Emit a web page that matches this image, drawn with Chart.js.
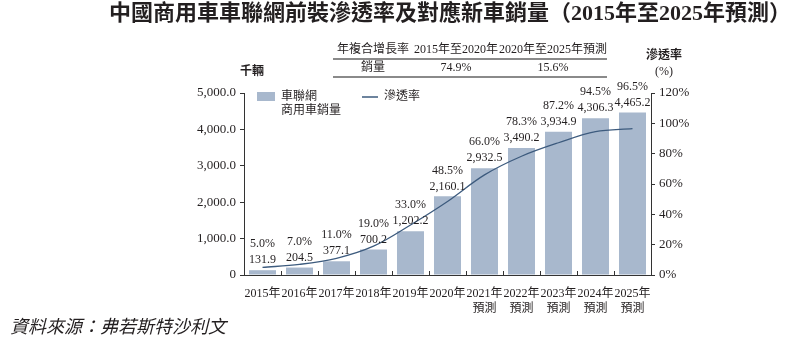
<!DOCTYPE html>
<html>
<head>
<meta charset="utf-8">
<script src="https://cdn.jsdelivr.net/npm/chart.js"></script>
<style>
    html, body { margin: 0; padding: 0; background: #fff; }
    #wrap { width: 793px; height: 353px; position: relative; }
</style>
</head>
<body>
<div id="wrap"><canvas id="salesChart" width="793" height="353"></canvas></div>
<script>
    // data
    const years = ["2015年", "2016年", "2017年", "2018年", "2019年", "2020年", "2021年", "2022年", "2023年", "2024年", "2025年"];
    const forecast = [false, false, false, false, false, false, true, true, true, true, true];
    const sales = [131.9, 204.5, 377.1, 700.2, 1202.2, 2160.1, 2932.5, 3490.2, 3934.9, 4306.3, 4465.2];
    const penetration = [5.0, 7.0, 11.0, 19.0, 33.0, 48.5, 66.0, 78.3, 87.2, 94.5, 96.5];
    const cagrPeriods = ["2015年至2020年", "2020年至2025年預測"];
    const cagrSales = ["74.9%", "15.6%"];

    const serif = "'Liberation Serif', 'Noto Sans CJK TC', serif";
    const textColor = "#231f20";
    const barColor = "#a8b8cd";
    const lineColor = "#3d5b7e";

    const labels = years.map(function (y, i) { return forecast[i] ? [y, "預測"] : y; });

    function fmt(v) {
        return v.toLocaleString("en-US", { minimumFractionDigits: 1, maximumFractionDigits: 1 });
    }

    // extra text: title, CAGR table, legend, value labels, source
    const decorations = {
        id: "decorations",
        afterDatasetsDraw: function (chart) {
            const ctx = chart.ctx;
            const area = chart.chartArea;
            ctx.save();
            ctx.fillStyle = textColor;

            // title
            ctx.font = "bold 22px " + serif;
            ctx.textAlign = "right";
            ctx.textBaseline = "middle";
            ctx.fillText("中國商用車車聯網前裝滲透率及對應新車銷量（2015年至2025年預測）", 791, 14);

            // CAGR table
            ctx.font = "12px " + serif;
            ctx.textAlign = "center";
            ctx.fillText("年複合增長率", 373, 50);
            ctx.fillText(cagrPeriods[0], 456, 50);
            ctx.fillText(cagrPeriods[1], 553, 50);
            ctx.fillText("銷量", 373, 68);
            ctx.fillText(cagrSales[0], 456, 68);
            ctx.fillText(cagrSales[1], 553, 68);
            ctx.strokeStyle = "#8a8a8a";
            ctx.lineWidth = 2;
            ctx.beginPath();
            ctx.moveTo(333, 59); ctx.lineTo(607, 59);
            ctx.moveTo(333, 77); ctx.lineTo(607, 77);
            ctx.stroke();

            // axis titles
            ctx.font = "bold 12px " + serif;
            ctx.fillText("千輛", 252, 72);
            ctx.fillText("滲透率", 664, 56);
            ctx.font = "12px " + serif;
            ctx.fillText("(%)", 664, 72);

            // legend
            ctx.fillStyle = barColor;
            ctx.fillRect(257, 92, 18, 9);
            ctx.fillStyle = textColor;
            ctx.textAlign = "left";
            ctx.fillText("車聯網", 281, 97);
            ctx.fillText("商用車銷量", 281, 111);
            ctx.strokeStyle = lineColor;
            ctx.lineWidth = 1.5;
            ctx.beginPath();
            ctx.moveTo(362, 97); ctx.lineTo(378, 97);
            ctx.stroke();
            ctx.fillText("滲透率", 384, 97);

            // value labels above each bar (dataset 1 is the bar series)
            ctx.textAlign = "center";
            ctx.font = "12px " + serif;
            const bars = chart.getDatasetMeta(1).data;
            bars.forEach(function (bar, i) {
                const top = Math.min(bar.y, area.bottom - 5);
                ctx.fillText(fmt(sales[i]), bar.x, top - 10);
                ctx.fillText(penetration[i].toFixed(1) + "%", bar.x, top - 26);
            });

            // x-axis tick marks pointing up at category boundaries
            const xs = chart.scales.x;
            ctx.strokeStyle = "#333";
            ctx.lineWidth = 1;
            ctx.beginPath();
            for (let i = 1; i < years.length; i++) {
                const bx = Math.round((xs.getPixelForValue(i - 1) + xs.getPixelForValue(i)) / 2) + 0.5;
                ctx.moveTo(bx, area.bottom);
                ctx.lineTo(bx, area.bottom - 4);
            }
            ctx.stroke();

            // source
            ctx.font = "italic 18px " + serif;
            ctx.textAlign = "left";
            ctx.fillText("資料來源：弗若斯特沙利文", 10, 328);
            ctx.restore();
        }
    };

    new Chart(document.getElementById("salesChart"), {
        data: {
            labels: labels,
            datasets: [
                {
                    type: "line",
                    label: "滲透率",
                    data: penetration,
                    yAxisID: "y1",
                    borderColor: lineColor,
                    borderWidth: 1.3,
                    pointRadius: 0,
                    tension: 0.35,
                    order: 0
                },
                {
                    type: "bar",
                    label: "車聯網商用車銷量",
                    data: sales,
                    yAxisID: "y",
                    backgroundColor: barColor,
                    categoryPercentage: 1,
                    barPercentage: 0.73,
                    order: 1
                }
            ]
        },
        options: {
            responsive: false,
            animation: false,
            layout: { padding: { top: 93, left: 0, right: 0, bottom: 0 } },
            plugins: { legend: { display: false }, tooltip: { enabled: false } },
            scales: {
                x: {
                    grid: { display: false },
                    border: { display: true, color: "#333", width: 1 },
                    ticks: {
                        color: textColor,
                        font: { family: serif, size: 12 },
                        padding: 4,
                        maxRotation: 0,
                        autoSkip: false
                    },
                    afterFit: function (scale) { scale.height = 78; }
                },
                y: {
                    position: "left",
                    min: 0,
                    max: 5000,
                    grid: { drawOnChartArea: false, drawTicks: true, tickLength: 4, color: "#333" },
                    border: { display: true, color: "#333", width: 1 },
                    ticks: {
                        stepSize: 1000,
                        color: textColor,
                        font: { family: serif, size: 13 },
                        padding: 4,
                        callback: function (v) { return v === 0 ? "0" : fmt(v); }
                    },
                    afterFit: function (scale) { scale.width = 244; }
                },
                y1: {
                    position: "right",
                    min: 0,
                    max: 120,
                    grid: { drawOnChartArea: false, drawTicks: true, tickLength: 4, color: "#333" },
                    border: { display: true, color: "#333", width: 1 },
                    ticks: {
                        stepSize: 20,
                        color: textColor,
                        font: { family: serif, size: 13 },
                        padding: 4,
                        callback: function (v) { return v + "%"; }
                    },
                    afterFit: function (scale) { scale.width = 142; }
                }
            }
        },
        plugins: [decorations]
    });
</script>
</body>
</html>
